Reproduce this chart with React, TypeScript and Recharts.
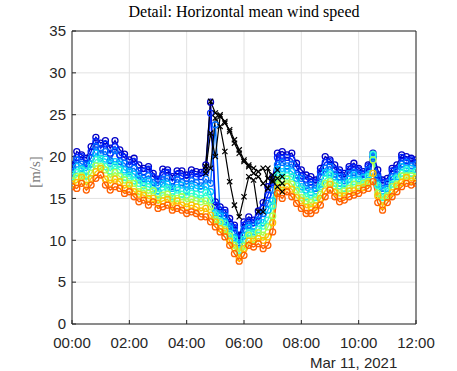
import { CartesianGrid, Line, LineChart, XAxis, YAxis } from "recharts";

// minutes after 00:00, Mar 11 2021, 10-min steps
const minutes = [
  0, 10, 20, 30, 40, 50, 60, 70, 80, 90, 100, 110, 120, 130, 140, 150, 160, 170, 180, 190,
  200, 210, 220, 230, 240, 250, 260, 270, 280, 290, 300, 310, 320, 330, 340, 350, 360, 370, 380, 390,
  400, 410, 420, 430, 440, 450, 460, 470, 480, 490, 500, 510, 520, 530, 540, 550, 560, 570, 580, 590,
  600, 610, 620, 630, 640, 650, 660, 670, 680, 690, 700, 710, 720
];

const xTicks = [0, 120, 240, 360, 480, 600, 720];
const yTicks = [0, 5, 10, 15, 20, 25, 30, 35];

// colored levels, top (blue) to bottom (orange)
const level1 = [
  19.0, 20.6, 20.2, 19.8, 21.2, 22.3, 21.6, 21.9, 21.0, 21.9,
  20.8, 20.3, 19.6, 19.8, 19.0, 18.6, 18.8, 18.0, 17.3, 18.5,
  18.4, 17.6, 18.3, 18.3, 17.8, 18.4, 18.2, 18.1, 19.0, 26.5,
  14.6, 14.0, 13.6, 12.6, 11.8, 10.6, 12.2, 12.8, 12.4, 13.5,
  14.5, 16.4, 17.5, 20.4, 20.6, 20.2, 20.4, 19.2, 18.4, 17.8,
  17.6, 17.2, 18.6, 20.0, 19.6, 19.0, 18.4, 18.0, 18.8, 19.2,
  18.6, 18.2, 19.0, 20.4, 18.4, 17.2, 17.4, 18.6, 19.0, 20.2,
  20.0, 19.8, 19.6
];
const level2 = [
  18.7, 19.9, 20.0, 19.2, 20.6, 21.8, 21.0, 21.5, 20.4, 21.2,
  20.2, 19.9, 19.0, 19.4, 18.3, 18.2, 18.5, 17.6, 17.2, 17.9,
  18.1, 17.1, 17.9, 17.7, 17.4, 17.9, 17.6, 17.6, 18.2, 25.2,
  14.2, 13.6, 13.3, 12.1, 11.5, 10.2, 11.8, 12.3, 12.1, 12.9,
  13.9, 15.4, 16.9, 19.9, 19.8, 19.9, 19.7, 18.7, 17.7, 17.3,
  17.0, 16.9, 18.2, 19.3, 19.4, 18.5, 18.1, 17.5, 18.5, 18.7,
  18.4, 17.9, 18.8, 20.0, 17.8, 16.9, 17.0, 18.3, 18.5, 19.9,
  19.5, 19.6, 19.2
];
const level3 = [
  18.2, 19.6, 19.1, 19.0, 19.8, 21.2, 20.4, 20.6, 19.5, 20.7,
  19.4, 19.2, 18.4, 18.6, 17.8, 17.4, 17.7, 16.9, 16.5, 17.3,
  17.4, 16.4, 17.3, 16.9, 16.7, 17.1, 16.9, 16.5, 17.3, 16.8,
  23.8, 13.2, 12.9, 11.7, 11.0, 9.7, 11.3, 11.8, 11.7, 12.4,
  13.2, 14.4, 16.0, 19.0, 19.3, 18.9, 19.1, 17.8, 17.4, 16.5,
  16.6, 16.2, 17.6, 18.6, 18.8, 17.9, 17.6, 17.1, 18.0, 18.1,
  17.9, 17.6, 18.4, 19.8, 17.5, 16.2, 16.8, 17.6, 18.3, 19.1,
  19.3, 18.9, 19.0
];
const level4 = [
  17.9, 18.8, 18.6, 18.3, 19.1, 20.4, 19.8, 19.7, 19.2, 19.4,
  19.1, 18.4, 18.2, 17.9, 17.3, 16.9, 17.1, 16.6, 15.9, 16.8,
  16.7, 16.2, 16.3, 16.6, 15.9, 16.5, 16.2, 16.1, 16.4, 15.8,
  13.3, 12.9, 12.2, 11.4, 10.3, 9.5, 10.5, 11.5, 11.0, 12.0,
  12.1, 13.6, 14.7, 18.5, 18.2, 18.5, 18.2, 17.4, 16.4, 16.0,
  15.7, 15.9, 16.7, 18.1, 18.1, 17.6, 16.8, 16.8, 17.3, 17.8,
  17.3, 17.5, 17.8, 20.1, 16.7, 15.9, 16.2, 17.3, 17.6, 18.8,
  18.6, 18.6, 18.4
];
const level5 = [
  17.6, 18.1, 18.4, 17.7, 18.7, 19.6, 19.7, 18.8, 18.3, 18.9,
  18.4, 17.5, 17.7, 17.1, 16.8, 16.5, 16.4, 16.0, 15.5, 16.0,
  16.2, 15.2, 16.0, 15.5, 15.4, 15.6, 15.5, 15.0, 15.7, 14.8,
  13.0, 12.3, 12.0, 10.8, 10.1, 8.8, 10.1, 10.9, 10.8, 11.3,
  11.7, 12.4, 14.1, 17.7, 17.7, 17.7, 17.6, 16.5, 16.1, 15.2,
  15.4, 15.1, 16.4, 17.3, 17.8, 16.8, 16.5, 16.2, 16.9, 17.0,
  17.1, 16.9, 17.6, 20.3, 16.5, 15.1, 15.9, 16.7, 17.4, 18.0,
  18.4, 18.0, 18.2
];
const level6 = [
  17.1, 17.6, 17.7, 17.2, 18.0, 18.9, 18.8, 18.4, 17.5, 18.1,
  17.6, 17.2, 16.8, 16.8, 15.8, 16.0, 15.6, 15.9, 14.9, 15.4,
  15.5, 15.0, 15.0, 15.2, 14.6, 14.9, 14.7, 14.6, 14.7, 14.0,
  12.5, 12.1, 11.3, 10.5, 9.4, 8.6, 9.3, 10.6, 10.1, 10.9,
  10.6, 11.6, 12.9, 17.2, 16.6, 17.3, 16.7, 16.0, 15.1, 14.7,
  14.5, 14.8, 15.5, 16.8, 17.0, 16.5, 15.7, 15.9, 16.2, 16.7,
  16.5, 16.8, 17.0, 19.6, 15.6, 14.8, 15.3, 16.4, 16.7, 17.7,
  17.7, 17.7, 17.6
];
const level7 = [
  16.7, 16.9, 17.5, 16.6, 17.4, 18.2, 18.6, 17.3, 16.8, 17.3,
  17.0, 16.2, 16.6, 15.8, 15.5, 15.4, 15.0, 15.0, 14.4, 14.7,
  14.9, 14.1, 14.7, 14.2, 14.0, 14.2, 14.0, 13.5, 13.8, 13.0,
  12.2, 11.4, 11.1, 9.9, 9.1, 7.9, 9.0, 9.9, 9.9, 10.2,
  10.0, 10.4, 12.1, 16.3, 16.0, 16.4, 16.1, 15.1, 14.7, 13.9,
  14.0, 14.1, 15.0, 15.9, 16.7, 15.7, 15.3, 15.3, 15.9, 15.9,
  16.2, 16.3, 16.8, 18.0, 15.3, 14.1, 15.1, 15.7, 16.5, 16.9,
  17.5, 17.1, 17.4
];
const level8 = [
  16.4, 16.2, 16.8, 16.0, 16.6, 17.4, 17.8, 16.6, 16.0, 16.4,
  16.2, 15.6, 15.8, 15.2, 14.6, 14.8, 14.2, 14.6, 13.8, 14.0,
  14.2, 13.6, 13.8, 13.6, 13.2, 13.4, 13.2, 12.8, 12.8, 12.2,
  11.6, 11.0, 10.4, 9.4, 8.4, 7.5, 8.2, 9.4, 9.2, 9.6,
  9.0, 9.4, 11.0, 15.6, 15.0, 15.8, 15.2, 14.4, 13.8, 13.2,
  13.2, 13.6, 14.2, 15.2, 16.0, 15.2, 14.6, 14.8, 15.2, 15.4,
  15.6, 16.0, 16.2, 17.0, 14.5, 13.6, 14.5, 15.2, 15.8, 16.4,
  16.8, 16.6, 16.8
];

// black "x" series, 04:40 - 07:20 only
const blackMinutes = [280, 290, 300, 310, 320, 330, 340, 350, 360, 370, 380, 390, 400, 410, 420, 430, 440];
const blackA = [18.8, 26.6, 25.2, 25.0, 24.0, 23.2, 22.0, 20.8, 19.6, 19.0, 18.6, 18.2, 18.6, 17.4, 17.0, 18.4, 17.6];
const blackB = [18.4, 22.8, 20.0, 24.8, 24.2, 23.0, 21.6, 20.4, 19.4, 18.8, 18.0, 17.6, 16.8, 16.2, 17.8, 17.4, 16.8];
const blackC = [18.0, 18.6, 24.6, 23.6, 20.6, 17.0, 14.2, 12.8, 15.2, 17.6, 17.2, 13.4, 13.4, 18.6, 17.2, 16.4, 15.8];

const levels = [level1, level2, level3, level4, level5, level6, level7, level8];
const levelColors = ["#0000c8", "#0028ff", "#0070ff", "#00c0ff", "#30ffd0", "#a8ff50", "#ffc000", "#ff6000"];
const blacks = [blackA, blackB, blackC];

const data = minutes.map((t, i) => {
  const row: Record<string, number | null> = { t };
  levels.forEach((lv, k) => {
    row[`l${k}`] = lv[i];
  });
  const bi = blackMinutes.indexOf(t);
  blacks.forEach((b, k) => {
    row[`b${k}`] = bi >= 0 ? b[bi] : null;
  });
  return row;
});

const AXIS = "#262626";
const SANS = "'Liberation Sans', Arial, Helvetica, sans-serif";
const SERIF = "'Liberation Serif', 'Times New Roman', serif";

function hhmm(v: number): string {
  const h = Math.floor(v / 60);
  const m = v % 60;
  return `${String(h).padStart(2, "0")}:${String(m).padStart(2, "0")}`;
}

function circleDot(color: string) {
  return (props: any) => {
    const { cx, cy, index } = props;
    if (cx == null || cy == null) return <g key={index} />;
    return <circle key={index} cx={cx} cy={cy} r={3} fill="none" stroke={color} strokeWidth={1.3} />;
  };
}

function crossDot(props: any) {
  const { cx, cy, index } = props;
  if (cx == null || cy == null) return <g key={index} />;
  const s = 2.6;
  return (
    <path
      key={index}
      d={`M${cx - s},${cy - s}L${cx + s},${cy + s}M${cx - s},${cy + s}L${cx + s},${cy - s}`}
      stroke="#000"
      strokeWidth={1.2}
      fill="none"
    />
  );
}

export default function App() {
  return (
    <div style={{ position: "absolute", left: 0, top: 0, width: 457, height: 371, background: "#fff" }}>
      <div
        style={{
          position: "absolute",
          left: 72,
          width: 344,
          top: 3,
          textAlign: "center",
          fontFamily: SERIF,
          fontSize: 16,
          lineHeight: "18px",
          color: "#000"
        }}
      >
        Detail: Horizontal mean wind speed
      </div>
      <div
        style={{
          position: "absolute",
          left: 35,
          top: 172,
          transform: "translate(-50%, -50%) rotate(-90deg)",
          fontFamily: SERIF,
          fontSize: 15,
          color: "#7a7a7a",
          whiteSpace: "nowrap"
        }}
      >
        [m/s]
      </div>
      <div
        style={{
          position: "absolute",
          left: 310,
          top: 354,
          fontFamily: SANS,
          fontSize: 15,
          lineHeight: "17px",
          color: AXIS
        }}
      >
        Mar 11, 2021
      </div>
      <LineChart width={457} height={371} data={data} margin={{ top: 0, right: 0, bottom: 0, left: 0 }}>
        <CartesianGrid
          xAxisId="b"
          yAxisId="l"
          stroke="#e2e2e2"
          strokeWidth={1}
          horizontalValues={yTicks}
          verticalValues={xTicks}
        />
        <XAxis
          xAxisId="b"
          dataKey="t"
          type="number"
          domain={[0, 720]}
          ticks={xTicks}
          tickFormatter={hhmm}
          height={47}
          tickSize={-4}
          tickMargin={17}
          stroke={AXIS}
          tick={{ fill: AXIS, fontSize: 15, fontFamily: SANS }}
          allowDataOverflow
        />
        <XAxis
          xAxisId="t"
          orientation="top"
          dataKey="t"
          type="number"
          domain={[0, 720]}
          ticks={xTicks}
          height={31}
          tickSize={-4}
          tick={false}
          stroke={AXIS}
          allowDataOverflow
        />
        <YAxis
          yAxisId="l"
          type="number"
          domain={[0, 35]}
          ticks={yTicks}
          width={72}
          tickSize={-4}
          tickMargin={10}
          stroke={AXIS}
          tick={{ fill: AXIS, fontSize: 15, fontFamily: SANS }}
          allowDataOverflow
        />
        <YAxis
          yAxisId="r"
          orientation="right"
          type="number"
          domain={[0, 35]}
          ticks={yTicks}
          width={41}
          tickSize={-4}
          tick={false}
          stroke={AXIS}
          allowDataOverflow
        />
        {levelColors.map((c, k) => (
          <Line
            key={`l${k}`}
            xAxisId="b"
            yAxisId="l"
            dataKey={`l${k}`}
            stroke={c}
            strokeWidth={1.4}
            dot={circleDot(c)}
            activeDot={false}
            isAnimationActive={false}
          />
        ))}
        {blacks.map((_, k) => (
          <Line
            key={`b${k}`}
            xAxisId="b"
            yAxisId="l"
            dataKey={`b${k}`}
            stroke="#000"
            strokeWidth={1.2}
            dot={crossDot}
            activeDot={false}
            isAnimationActive={false}
          />
        ))}
      </LineChart>
    </div>
  );
}
